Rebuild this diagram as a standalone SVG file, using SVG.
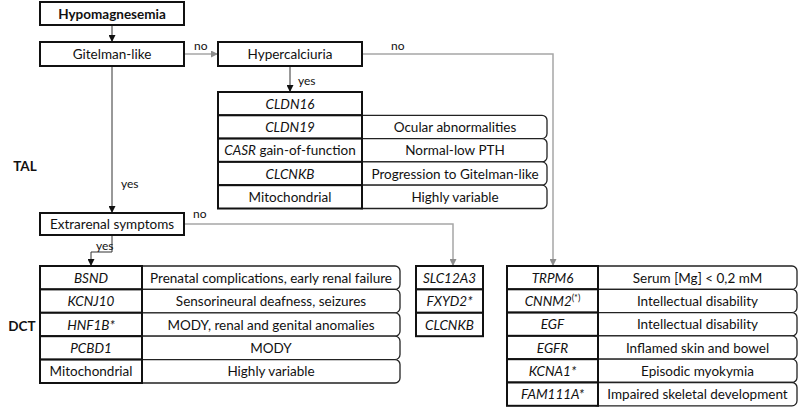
<svg xmlns="http://www.w3.org/2000/svg" width="798" height="408" viewBox="0 0 798 408">
<style>
text{font-family:"Lato","Open Sans","Liberation Sans",sans-serif;font-size:13.5px;fill:#111;text-anchor:middle;dominant-baseline:central}
.b{font-weight:bold}
.i{font-style:italic}
.lab{font-size:12px;text-anchor:start}
.box{fill:#fff;stroke:#111;stroke-width:2}
.rbox{fill:#fff;stroke:#222;stroke-width:1.3}
.dark{fill:none;stroke:#333;stroke-width:1}
.grey{fill:none;stroke:#a6a6a6;stroke-width:1.5}
</style>
<defs>
<marker id="ad" viewBox="0 0 10 10" refX="10" refY="5" markerWidth="7" markerHeight="7" orient="auto" markerUnits="userSpaceOnUse"><path d="M0,0L10,5L0,10z" fill="#111"/></marker>
<marker id="ag" viewBox="0 0 10 10" refX="10" refY="5" markerWidth="7" markerHeight="7" orient="auto" markerUnits="userSpaceOnUse"><path d="M0,0L10,5L0,10z" fill="#8c8c8c"/></marker>
</defs>
<rect width="798" height="408" fill="#fff"/>
<text class="b" x="25" y="166">TAL</text>
<text class="b" x="22" y="326">DCT</text>

<g id="connectors">
<path class="dark" d="M112,25V42" marker-end="url(#ad)"/>
<path class="grey" d="M184,54H218" marker-end="url(#ag)"/>
<text class="lab" x="194" y="45">no</text>
<path class="grey" d="M362,54H553V266" marker-end="url(#ag)"/>
<text class="lab" x="391" y="45">no</text>
<path class="dark" d="M290,66V92" marker-end="url(#ad)"/>
<text class="lab" x="298" y="80">yes</text>
<path class="dark" d="M112,66V213" marker-end="url(#ad)"/>
<text class="lab" x="121" y="183">yes</text>
<path class="grey" d="M184,224H453V266" marker-end="url(#ag)"/>
<text class="lab" x="193" y="213">no</text>
<path class="dark" d="M112,235V252H91V266" marker-end="url(#ad)"/>
<text class="lab" x="96" y="245">yes</text>
</g>

<g id="hypomagnesemia"><rect class="box" x="40" y="2" width="144" height="23"/><text class="b" x="112" y="14">Hypomagnesemia</text></g>
<g id="gitelman"><rect class="box" x="40" y="42" width="144" height="24"/><text x="112" y="54">Gitelman-like</text></g>
<g id="hypercalciuria"><rect class="box" x="218" y="42" width="144" height="24"/><text x="290" y="54">Hypercalciuria</text></g>
<g id="extrarenal"><rect class="box" x="40" y="213" width="144" height="22"/><text x="112" y="224">Extrarenal symptoms</text></g>

<g id="tal">
<rect class="rbox" x="356" y="115.3" width="191" height="23.3" rx="5"/>
<rect class="rbox" x="356" y="138.6" width="191" height="23.3" rx="5"/>
<rect class="rbox" x="356" y="161.9" width="191" height="23.3" rx="5"/>
<rect class="rbox" x="356" y="185.2" width="191" height="23.3" rx="5"/>
<rect class="box" x="218" y="92" width="144" height="23.3"/>
<rect class="box" x="218" y="115.3" width="144" height="23.3"/>
<rect class="box" x="218" y="138.6" width="144" height="23.3"/>
<rect class="box" x="218" y="161.9" width="144" height="23.3"/>
<rect class="box" x="218" y="185.2" width="144" height="23.3"/>
<text class="i" x="290" y="104">CLDN16</text>
<text class="i" x="290" y="127">CLDN19</text>
<text x="290" y="150"><tspan class="i">CASR</tspan> gain-of-function</text>
<text class="i" x="290" y="173.5">CLCNKB</text>
<text x="290" y="197">Mitochondrial</text>
<text x="455" y="127">Ocular abnormalities</text>
<text x="455" y="150">Normal-low PTH</text>
<text x="455" y="173.5">Progression to Gitelman-like</text>
<text x="455" y="197">Highly variable</text>
</g>

<g id="dct">
<rect class="rbox" x="136" y="266" width="264" height="23.4" rx="5"/>
<rect class="rbox" x="136" y="289.4" width="264" height="23.4" rx="5"/>
<rect class="rbox" x="136" y="312.8" width="264" height="23.4" rx="5"/>
<rect class="rbox" x="136" y="336.2" width="264" height="23.4" rx="5"/>
<rect class="rbox" x="136" y="359.6" width="264" height="23.4" rx="5"/>
<rect class="box" x="40" y="266" width="102" height="23.4"/>
<rect class="box" x="40" y="289.4" width="102" height="23.4"/>
<rect class="box" x="40" y="312.8" width="102" height="23.4"/>
<rect class="box" x="40" y="336.2" width="102" height="23.4"/>
<rect class="box" x="40" y="359.6" width="102" height="23.4"/>
<text class="i" x="91" y="278">BSND</text>
<text class="i" x="91" y="301">KCNJ10</text>
<text class="i" x="91" y="324.5">HNF1B*</text>
<text class="i" x="91" y="348">PCBD1</text>
<text x="91" y="371">Mitochondrial</text>
<text x="271" y="278">Prenatal complications, early renal failure</text>
<text x="271" y="301">Sensorineural deafness, seizures</text>
<text x="271" y="324.5">MODY, renal and genital anomalies</text>
<text x="271" y="348">MODY</text>
<text x="271" y="371">Highly variable</text>
</g>

<g id="gitelman-genes">
<rect class="box" x="416" y="266" width="67" height="23.4"/>
<rect class="box" x="416" y="289.4" width="67" height="23.4"/>
<rect class="box" x="416" y="312.8" width="67" height="23.4"/>
<text class="i" x="449.5" y="278">SLC12A3</text>
<text class="i" x="449.5" y="301">FXYD2*</text>
<text class="i" x="449.5" y="324.5">CLCNKB</text>
</g>

<g id="other">
<rect class="rbox" x="592" y="266" width="205" height="23.3" rx="5"/>
<rect class="rbox" x="592" y="289.3" width="205" height="23.3" rx="5"/>
<rect class="rbox" x="592" y="312.6" width="205" height="23.3" rx="5"/>
<rect class="rbox" x="592" y="335.9" width="205" height="23.3" rx="5"/>
<rect class="rbox" x="592" y="359.2" width="205" height="23.3" rx="5"/>
<rect class="rbox" x="592" y="382.5" width="205" height="23.3" rx="5"/>
<rect class="box" x="507" y="266" width="91" height="23.3"/>
<rect class="box" x="507" y="289.3" width="91" height="23.3"/>
<rect class="box" x="507" y="312.6" width="91" height="23.3"/>
<rect class="box" x="507" y="335.9" width="91" height="23.3"/>
<rect class="box" x="507" y="359.2" width="91" height="23.3"/>
<rect class="box" x="507" y="382.5" width="91" height="23.3"/>
<text class="i" x="552.5" y="278">TRPM6</text>
<text x="552.5" y="301"><tspan class="i">CNNM2</tspan><tspan font-size="9" dy="-4">(*)</tspan></text>
<text class="i" x="552.5" y="324">EGF</text>
<text class="i" x="552.5" y="347.5">EGFR</text>
<text class="i" x="552.5" y="371">KCNA1*</text>
<text class="i" x="552.5" y="394">FAM111A*</text>
<text x="697.5" y="278">Serum [Mg] &lt; 0,2 mM</text>
<text x="697.5" y="301">Intellectual disability</text>
<text x="697.5" y="324">Intellectual disability</text>
<text x="697.5" y="347.5">Inflamed skin and bowel</text>
<text x="697.5" y="371">Episodic myokymia</text>
<text x="697.5" y="394">Impaired skeletal development</text>
</g>
</svg>
